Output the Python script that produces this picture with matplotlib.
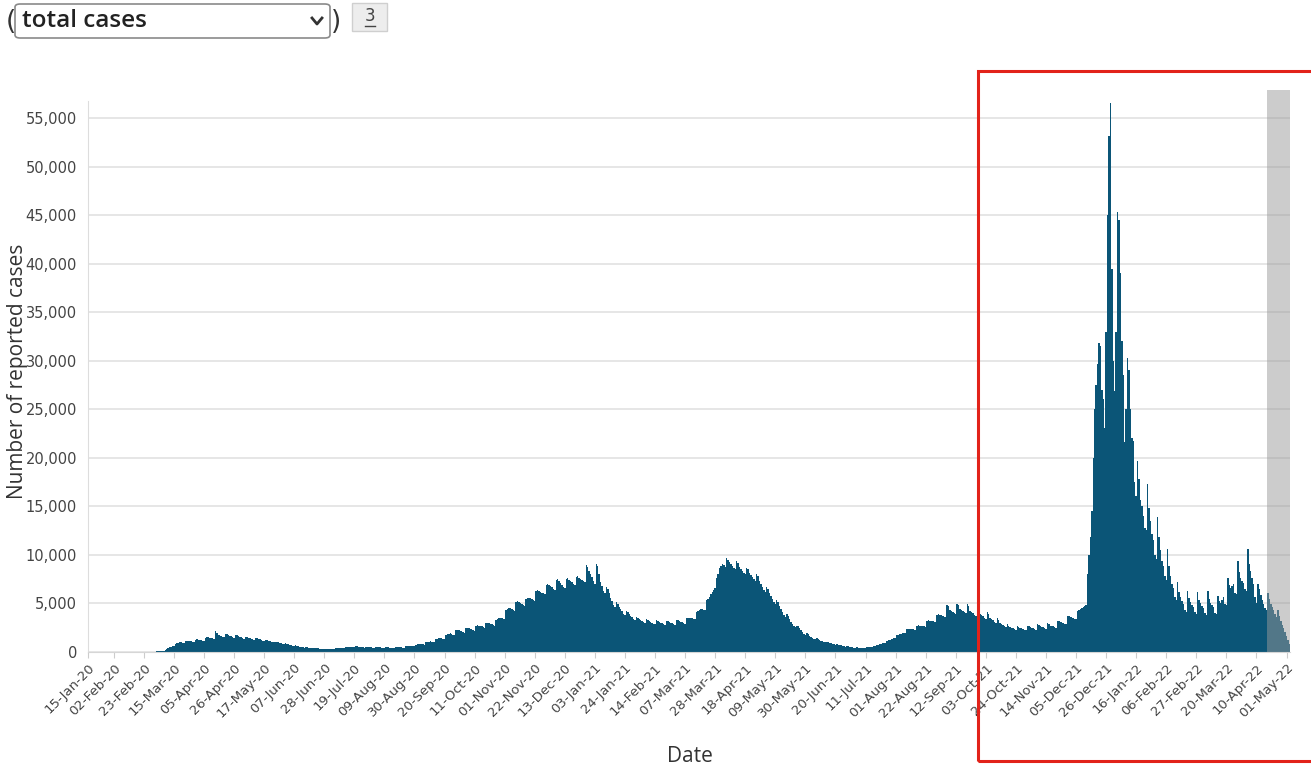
import numpy as np
import pandas as pd
import matplotlib
matplotlib.use('Agg')
import matplotlib.pyplot as plt
from matplotlib.patches import Rectangle, FancyBboxPatch
from matplotlib.lines import Line2D
from matplotlib.ticker import FuncFormatter

W, H = 1311, 767

start_date = '2020-01-15'

# daily reported cases, one row per week (Wed .. Tue)
weekly_cases = [
    [0, 0, 0, 0, 0, 0, 0],
    [0, 0, 0, 0, 0, 0, 0],
    [0, 0, 0, 0, 0, 0, 0],
    [0, 0, 0, 0, 0, 0, 0],
    [0, 0, 0, 0, 0, 0, 0],
    [0, 0, 0, 0, 0, 1, 2],
    [3, 5, 8, 10, 12, 20, 30],
    [45, 60, 80, 90, 110, 180, 260],
    [380, 450, 520, 560, 600, 750, 850],
    [920, 950, 980, 900, 880, 1100, 1150],
    [1120, 1100, 1080, 1000, 980, 1250, 1280],
    [1250, 1230, 1200, 1150, 1100, 1450, 1500],
    [1480, 1450, 1420, 1380, 1350, 2100, 1900],
    [1750, 1700, 1650, 1550, 1500, 1850, 1800],
    [1700, 1650, 1600, 1500, 1450, 1700, 1680],
    [1600, 1550, 1500, 1400, 1350, 1550, 1520],
    [1450, 1400, 1350, 1280, 1250, 1420, 1400],
    [1330, 1280, 1230, 1150, 1100, 1250, 1220],
    [1150, 1100, 1050, 980, 950, 1050, 1020],
    [960, 920, 880, 820, 780, 850, 820],
    [760, 720, 680, 620, 580, 640, 600],
    [560, 520, 490, 450, 420, 470, 450],
    [420, 400, 380, 350, 330, 370, 360],
    [340, 320, 310, 290, 280, 320, 310],
    [300, 300, 290, 280, 270, 340, 350],
    [380, 400, 390, 370, 360, 480, 500],
    [500, 490, 480, 450, 440, 560, 540],
    [520, 500, 480, 450, 430, 520, 510],
    [490, 470, 450, 420, 400, 480, 470],
    [450, 440, 420, 400, 380, 460, 450],
    [440, 430, 420, 400, 390, 480, 470],
    [470, 460, 450, 430, 420, 560, 580],
    [600, 620, 600, 580, 560, 720, 760],
    [800, 820, 800, 760, 740, 950, 1000],
    [1050, 1080, 1050, 1000, 980, 1300, 1350],
    [1400, 1450, 1400, 1350, 1300, 1750, 1800],
    [1850, 1900, 1850, 1750, 1700, 2200, 2250],
    [2200, 2150, 2100, 2000, 1950, 2400, 2450],
    [2400, 2350, 2300, 2200, 2150, 2700, 2750],
    [2700, 2650, 2600, 2500, 2450, 2950, 3000],
    [2950, 2900, 2850, 2750, 2700, 3300, 3400],
    [3450, 3500, 3500, 3400, 3350, 4300, 4400],
    [4500, 4500, 4400, 4300, 4200, 5100, 5200],
    [5100, 5000, 4900, 4800, 4700, 5400, 5500],
    [5500, 5500, 5400, 5300, 5200, 6300, 6400],
    [6300, 6200, 6100, 6000, 5900, 6900, 7000],
    [6900, 6800, 6700, 6500, 6400, 7400, 7500],
    [7300, 7100, 6900, 6700, 6600, 7500, 7600],
    [7400, 7300, 7200, 7000, 6900, 7700, 7800],
    [7600, 7500, 7400, 7300, 7200, 8900, 8700],
    [8300, 8000, 7700, 7300, 7000, 9000, 8800],
    [8000, 7200, 6800, 6300, 6000, 6700, 6500],
    [6000, 5500, 5200, 4800, 4600, 5100, 4900],
    [4600, 4400, 4200, 3900, 3800, 4200, 4100],
    [3900, 3700, 3600, 3400, 3300, 3600, 3500],
    [3400, 3300, 3200, 3100, 3000, 3350, 3300],
    [3200, 3100, 3000, 2900, 2850, 3250, 3200],
    [3100, 3000, 2950, 2850, 2800, 3200, 3150],
    [3100, 3000, 2950, 2850, 2800, 3300, 3250],
    [3200, 3100, 3050, 2950, 2900, 3450, 3450],
    [3500, 3500, 3450, 3400, 3400, 4100, 4200],
    [4300, 4400, 4400, 4300, 4300, 5300, 5400],
    [5600, 5900, 6200, 6400, 6600, 7600, 8000],
    [8600, 8800, 9000, 8900, 8700, 9700, 9500],
    [9200, 9000, 8800, 8600, 8500, 9300, 9100],
    [8700, 8500, 8300, 8100, 8000, 8600, 8500],
    [8100, 7900, 7700, 7500, 7300, 8000, 7800],
    [7300, 7000, 6700, 6400, 6200, 6700, 6500],
    [6000, 5700, 5400, 5100, 4900, 5300, 5100],
    [4700, 4400, 4100, 3800, 3600, 3900, 3700],
    [3400, 3100, 2900, 2700, 2500, 2700, 2600],
    [2400, 2200, 2000, 1850, 1750, 1900, 1800],
    [1650, 1550, 1450, 1350, 1300, 1400, 1350],
    [1250, 1150, 1080, 1000, 950, 1020, 980],
    [900, 850, 800, 750, 700, 760, 730],
    [680, 640, 600, 560, 530, 570, 550],
    [520, 490, 460, 430, 410, 450, 430],
    [410, 400, 390, 380, 380, 450, 460],
    [480, 500, 520, 540, 560, 700, 740],
    [780, 830, 870, 900, 930, 1150, 1200],
    [1250, 1300, 1350, 1380, 1400, 1700, 1750],
    [1800, 1850, 1900, 1900, 1900, 2300, 2350],
    [2300, 2300, 2300, 2250, 2200, 2700, 2750],
    [2700, 2700, 2650, 2600, 2550, 3200, 3250],
    [3200, 3200, 3150, 3100, 3050, 3800, 3850],
    [3800, 3750, 3700, 3600, 3550, 4800, 4700],
    [4300, 4200, 4100, 3950, 3900, 4900, 4800],
    [4400, 4300, 4200, 4050, 3950, 4900, 4700],
    [4200, 4100, 4000, 3800, 3700, 4600, 4400],
    [3900, 3800, 3700, 3500, 3400, 4100, 3900],
    [3500, 3400, 3300, 3100, 3000, 3500, 3300],
    [3000, 2900, 2800, 2600, 2500, 2850, 2700],
    [2550, 2450, 2400, 2300, 2250, 2650, 2550],
    [2450, 2400, 2350, 2250, 2200, 2700, 2600],
    [2500, 2450, 2400, 2300, 2250, 2850, 2750],
    [2600, 2550, 2500, 2400, 2350, 2950, 2850],
    [2700, 2650, 2600, 2500, 2450, 3200, 3150],
    [3100, 3050, 3000, 2900, 2850, 3700, 3650],
    [3600, 3550, 3500, 3400, 3350, 4200, 4300],
    [4400, 4500, 4600, 4700, 4800, 8000, 10000],
    [11800, 14500, 20000, 25000, 27500, 29700, 31800],
    [31500, 27000, 26000, 23100, 33000, 45000, 53200],
    [56600, 39500, 30000, 26900, 33000, 45300, 44500],
    [39000, 32000, 28500, 21600, 25000, 30300, 29000],
    [25000, 22000, 21700, 17500, 16000, 19700, 17800],
    [15600, 15000, 14000, 12800, 12500, 17300, 14800],
    [13500, 12100, 11500, 10000, 9600, 13900, 11800],
    [10500, 9400, 8800, 7800, 7400, 10600, 8800],
    [7800, 7000, 6600, 5600, 5300, 7200, 6200],
    [5600, 5200, 4900, 4300, 4100, 6300, 5500],
    [5100, 4800, 4600, 4100, 3900, 6200, 5300],
    [5000, 4700, 4500, 4000, 3800, 6300, 5400],
    [5000, 4800, 4600, 4000, 3900, 5700, 5200],
    [5000, 5300, 5600, 4900, 4800, 7600, 6900],
    [6600, 6800, 7000, 6100, 5900, 9400, 8200],
    [7600, 7300, 7100, 6500, 6300, 10600, 9000],
    [8300, 7600, 7000, 5600, 5000, 7000, 6500],
    [5800, 5300, 4900, 4500, 4300, 6000, 5400],
    [4900, 4600, 4300, 3900, 3600, 4300, 3700],
    [3200, 2800, 2400, 2000, 1600, 1200, 800],
]

tick_labels = ['15-Jan-20', '02-Feb-20', '23-Feb-20', '15-Mar-20', '05-Apr-20', '26-Apr-20',
               '17-May-20', '07-Jun-20', '28-Jun-20', '19-Jul-20', '09-Aug-20', '30-Aug-20',
               '20-Sep-20', '11-Oct-20', '01-Nov-20', '22-Nov-20', '13-Dec-20', '03-Jan-21',
               '24-Jan-21', '14-Feb-21', '07-Mar-21', '28-Mar-21', '18-Apr-21', '09-May-21',
               '30-May-21', '20-Jun-21', '11-Jul-21', '01-Aug-21', '22-Aug-21', '12-Sep-21',
               '03-Oct-21', '24-Oct-21', '14-Nov-21', '05-Dec-21', '26-Dec-21', '16-Jan-22',
               '06-Feb-22', '27-Feb-22', '20-Mar-22', '10-Apr-22', '01-May-22']
y_ticks = [0, 5000, 10000, 15000, 20000, 25000, 30000, 35000, 40000, 45000, 50000, 55000]
incomplete_start = '2022-04-17 12:00'   # greyed-out last days (data not complete)

cases = np.array(weekly_cases).ravel()
dates = pd.date_range(start_date, periods=len(cases), freq='D')

bar_color = '#0b5577'
text_color = '#444444'


def fx(x):
    return x / W


def fy(y):
    return 1 - y / H


fig = plt.figure(figsize=(W / 100, H / 100), dpi=100)
ax = fig.add_axes([fx(88), fy(651.7), fx(1290) - fx(88), fy(90) - fy(651.7)])

ax.bar(dates, cases, width=1.0, color=bar_color, linewidth=0, zorder=2)

x0 = pd.Timestamp(start_date)
x1 = x0 + pd.Timedelta(days=839.4)
ax.axvspan(pd.Timestamp(incomplete_start), x1, color='#9a9a9a', alpha=0.5, lw=0, zorder=3)

ax.set_xlim(x0, x1)
ax.set_ylim(0, 57900)

ax.set_yticks(y_ticks)
ax.yaxis.set_major_formatter(FuncFormatter(lambda v, p: f'{int(v):,}'))
ax.set_xticks(pd.to_datetime(tick_labels, format='%d-%b-%y'))
ax.set_xticklabels(tick_labels, rotation=45, ha='right', rotation_mode='anchor')

ax.tick_params(axis='x', length=4, color='#cccccc', labelsize=9.5, labelcolor=text_color, pad=3)
ax.tick_params(axis='y', length=0, labelsize=10.5, labelcolor=text_color, pad=8)

ax.yaxis.grid(True, color='#e4e4e4', lw=1.3)
ax.set_axisbelow(True)
for s in ['top', 'right']:
    ax.spines[s].set_visible(False)
ax.spines['left'].set_color('#dddddd')
ax.spines['left'].set_bounds(0, 56800)
ax.spines['bottom'].set_color('#d6d6d6')

fig.text(fx(18), fy(371), 'Number of reported cases', rotation=90, ha='center', va='center',
         fontsize=15, color='#333333', family=['Open Sans', 'DejaVu Sans'])
fig.text(fx(690), fy(757), 'Date', ha='center', va='center',
         fontsize=15, color='#333333', family=['Open Sans', 'DejaVu Sans'])

# page controls above the chart
box = FancyBboxPatch((fx(15), fy(38)), fx(330) - fx(15), fy(4) - fy(38),
                     boxstyle='round,pad=0,rounding_size=0.004', transform=fig.transFigure,
                     fc='white', ec='#8a8a8a', lw=1.2)
fig.add_artist(box)
fig.text(fx(22), fy(21), 'total cases', ha='left', va='center', fontsize=17.5,
         fontweight='semibold', color='#222222', family=['Open Sans', 'DejaVu Sans'])
fig.add_artist(Line2D([fx(312), fx(317), fx(322)], [fy(18), fy(24), fy(18)],
                      transform=fig.transFigure, color='#333333', lw=2))
fig.text(fx(11), fy(22), '(', ha='center', va='center', fontsize=19, color='#333333')
fig.text(fx(336), fy(22), ')', ha='center', va='center', fontsize=19, color='#333333')
fig.add_artist(Rectangle((fx(352), fy(31)), fx(387) - fx(352), fy(3) - fy(31),
                         transform=fig.transFigure, fc='#ededed', ec='#cfcfcf', lw=1))
fig.text(fx(370), fy(16), '3', ha='center', va='center', fontsize=12, color='#444444')
fig.add_artist(Line2D([fx(365), fx(375)], [fy(26), fy(26)], transform=fig.transFigure,
                      color='#444444', lw=1))

# red highlight frame
fig.add_artist(Rectangle((fx(978), fy(761)), fx(1330) - fx(978), fy(71) - fy(761),
                         transform=fig.transFigure, fill=False, ec='#e2231a', lw=2.2,
                         clip_on=False, zorder=10))

fig.savefig('out.png', dpi=100)
